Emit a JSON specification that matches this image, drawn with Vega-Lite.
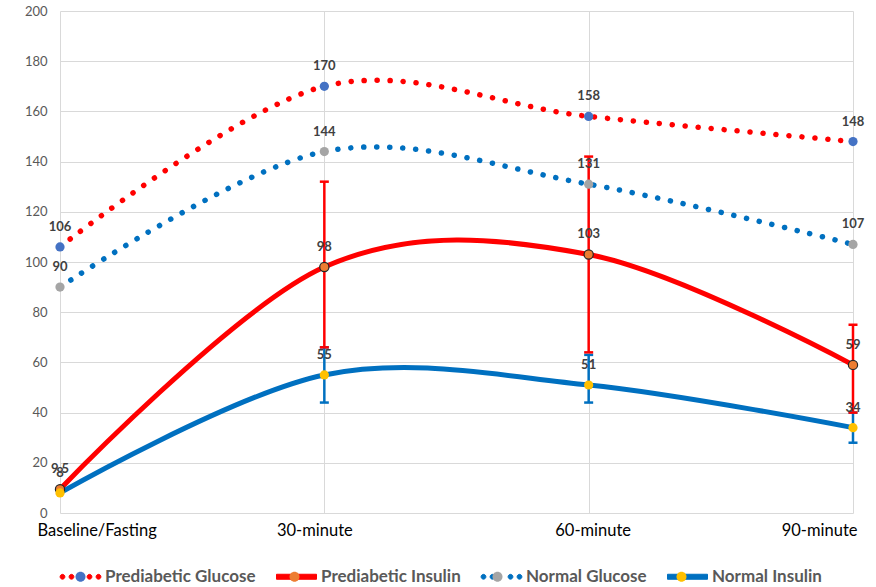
{
  "$schema": "https://vega.github.io/schema/vega-lite/v6.json",
  "width": 793,
  "height": 502,
  "autosize": {"type": "none"},
  "padding": {"left": 60, "top": 11, "right": 23, "bottom": 74},
  "background": "white",
  "config": {"view": {"stroke": null}, "font": "Lato"},
  "data": {
    "values": [
      {"time": "Baseline/Fasting", "series": "Prediabetic Glucose", "value": 106},
      {"time": "30-minute", "series": "Prediabetic Glucose", "value": 170},
      {"time": "60-minute", "series": "Prediabetic Glucose", "value": 158},
      {"time": "90-minute", "series": "Prediabetic Glucose", "value": 148},
      {"time": "Baseline/Fasting", "series": "Prediabetic Insulin", "value": 9.5},
      {"time": "30-minute", "series": "Prediabetic Insulin", "value": 98, "lo": 66, "hi": 132},
      {"time": "60-minute", "series": "Prediabetic Insulin", "value": 103, "lo": 64, "hi": 142},
      {"time": "90-minute", "series": "Prediabetic Insulin", "value": 59, "lo": 40, "hi": 75},
      {"time": "Baseline/Fasting", "series": "Normal Glucose", "value": 90},
      {"time": "30-minute", "series": "Normal Glucose", "value": 144},
      {"time": "60-minute", "series": "Normal Glucose", "value": 131},
      {"time": "90-minute", "series": "Normal Glucose", "value": 107},
      {"time": "Baseline/Fasting", "series": "Normal Insulin", "value": 8},
      {"time": "30-minute", "series": "Normal Insulin", "value": 55, "lo": 44, "hi": 66},
      {"time": "60-minute", "series": "Normal Insulin", "value": 51, "lo": 44, "hi": 63},
      {"time": "90-minute", "series": "Normal Insulin", "value": 34, "lo": 28, "hi": 40}
    ]
  },
  "encoding": {
    "x": {
      "field": "time",
      "type": "ordinal",
      "sort": ["Baseline/Fasting", "30-minute", "60-minute", "90-minute"],
      "scale": {"type": "point", "padding": 0},
      "axis": {
        "title": null,
        "grid": true,
        "gridColor": "#D9D9D9",
        "gridWidth": 1,
        "domain": false,
        "ticks": false,
        "labelAngle": 0,
        "labelFont": "Lato",
        "labelFontSize": 16.5,
        "labelColor": "#000000",
        "labelPadding": 9,
        "labelBaseline": "top",
        "labelAlign": {"expr": "datum.value == 'Baseline/Fasting' ? 'left' : datum.value == '90-minute' ? 'right' : 'center'"},
        "labelOffset": {"expr": "datum.value == 'Baseline/Fasting' ? -23 : datum.value == '30-minute' ? -10 : 4"}
      }
    },
    "y": {
      "field": "value",
      "type": "quantitative",
      "scale": {"domain": [0, 200], "nice": false},
      "axis": {
        "title": null,
        "values": [0, 20, 40, 60, 80, 100, 120, 140, 160, 180, 200],
        "grid": true,
        "gridColor": "#D9D9D9",
        "gridWidth": 1,
        "domain": false,
        "ticks": false,
        "labelFont": "Lato",
        "labelFontSize": 13,
        "labelColor": "#595959",
        "labelPadding": 13
      }
    }
  },
  "layer": [
    {
      "transform": [{"filter": "indexof(datum.series, 'Glucose') >= 0"}],
      "mark": {"type": "line", "interpolate": "cardinal", "strokeWidth": 5.5, "strokeDash": [0.1, 12.9], "strokeCap": "round"},
      "encoding": {
        "stroke": {
          "field": "series",
          "type": "nominal",
          "scale": {
            "domain": ["Prediabetic Glucose", "Prediabetic Insulin", "Normal Glucose", "Normal Insulin"],
            "range": ["#FF0000", "#FF0000", "#0070C0", "#0070C0"]
          },
          "legend": {
            "orient": "none",
            "legendX": 0,
            "legendY": 545,
            "direction": "horizontal",
            "columns": 4,
            "title": null,
            "symbolType": "stroke",
            "symbolSize": 1600,
            "symbolStrokeWidth": 1,
            "labelFont": "Lato",
            "labelFontSize": 17,
            "labelFontWeight": "bold",
            "labelColor": "#595959",
            "labelOffset": 4,
            "columnPadding": 18,
            "encode": {
              "symbols": {
                "update": {
                  "shape": {"signal": "indexof(datum.value, 'Glucose') >= 0 ? 'M-0.78,0A0.12,0.12,0,1,1,-1.02,0A0.12,0.12,0,1,1,-0.78,0ZM-0.33,0A0.12,0.12,0,1,1,-0.57,0A0.12,0.12,0,1,1,-0.33,0ZM0.57,0A0.12,0.12,0,1,1,0.33,0A0.12,0.12,0,1,1,0.57,0ZM1.02,0A0.12,0.12,0,1,1,0.78,0A0.12,0.12,0,1,1,1.02,0Z' : 'M-1,-0.125L1,-0.125L1,0.125L-1,0.125Z'"},
                  "fill": {"signal": "indexof(datum.value, 'Prediabetic') >= 0 ? '#FF0000' : '#0070C0'"},
                  "fillOpacity": {"value": 1},
                  "stroke": {"value": "transparent"}
                }
              }
            }
          }
        }
      }
    },
    {
      "transform": [{"filter": "indexof(datum.series, 'Insulin') >= 0"}],
      "mark": {"type": "line", "interpolate": "cardinal", "strokeWidth": 5},
      "encoding": {
        "stroke": {"field": "series", "type": "nominal"}
      }
    },
    {
      "transform": [{"filter": "isValid(datum.lo)"}],
      "mark": {"type": "rule", "strokeWidth": 2.5},
      "encoding": {
        "y": {"field": "lo", "type": "quantitative", "title": null},
        "y2": {"field": "hi"},
        "color": {"condition": {"test": "datum.series == 'Prediabetic Insulin'", "value": "#FF0000"}, "value": "#0070C0"}
      }
    },
    {
      "transform": [{"filter": "isValid(datum.hi)"}],
      "mark": {"type": "tick", "thickness": 2.5, "size": 9, "opacity": 1},
      "encoding": {
        "y": {"field": "hi", "type": "quantitative", "title": null},
        "color": {"condition": {"test": "datum.series == 'Prediabetic Insulin'", "value": "#FF0000"}, "value": "#0070C0"}
      }
    },
    {
      "transform": [{"filter": "isValid(datum.lo)"}],
      "mark": {"type": "tick", "thickness": 2.5, "size": 9, "opacity": 1},
      "encoding": {
        "y": {"field": "lo", "type": "quantitative", "title": null},
        "color": {"condition": {"test": "datum.series == 'Prediabetic Insulin'", "value": "#FF0000"}, "value": "#0070C0"}
      }
    },
    {
      "mark": {"type": "circle", "size": 85, "opacity": 1, "strokeWidth": 1.2},
      "encoding": {
        "fill": {
          "field": "series",
          "type": "nominal",
          "sort": ["Prediabetic Glucose", "Prediabetic Insulin", "Normal Glucose", "Normal Insulin"],
          "scale": {"range": ["#4472C4", "#ED7D31", "#A5A5A5", "#FFC000"]},
          "legend": {
            "orient": "none",
            "legendX": 0,
            "legendY": 545,
            "direction": "horizontal",
            "columns": 4,
            "title": null,
            "symbolType": "M0.25,0A0.25,0.25,0,1,1,-0.25,0A0.25,0.25,0,1,1,0.25,0Z",
            "symbolSize": 1600,
            "symbolStrokeWidth": 1,
            "symbolOpacity": 1,
            "labelFont": "Lato",
            "labelFontSize": 17,
            "labelFontWeight": "bold",
            "labelColor": "#595959",
            "labelOpacity": 0,
            "labelOffset": 4,
            "columnPadding": 18,
            "encode": {
              "symbols": {
                "update": {
                  "stroke": {"signal": "datum.value == 'Prediabetic Insulin' ? '#262626' : 'transparent'"},
                  "fillOpacity": {"value": 1}
                }
              }
            }
          }
        },
        "stroke": {"condition": {"test": "datum.series == 'Prediabetic Insulin'", "value": "#262626"}, "value": "transparent"}
      }
    },
    {
      "mark": {"type": "text", "dy": -20, "fontWeight": "bold", "fontSize": 13, "color": "#404040", "font": "Lato"},
      "encoding": {
        "text": {"field": "value", "type": "quantitative"}
      }
    }
  ]
}
